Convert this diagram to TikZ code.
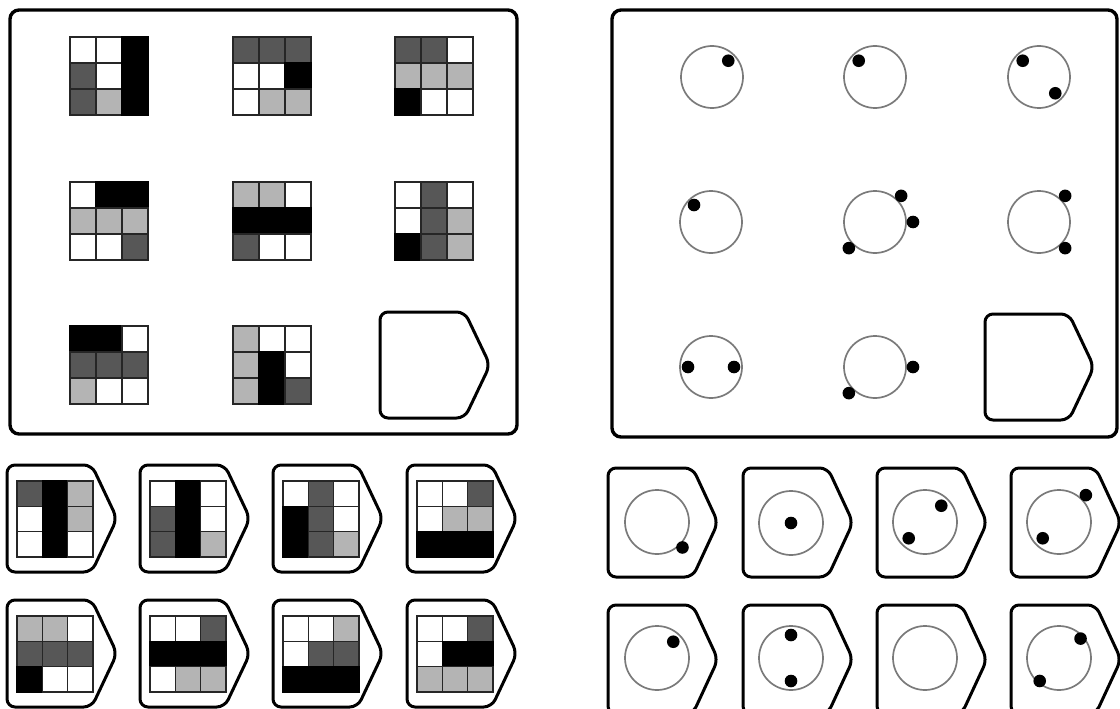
\documentclass[tikz,border=0pt]{standalone}
\usepackage{tikz}
\usetikzlibrary{calc}
\definecolor{gW}{HTML}{FFFFFF}
\definecolor{gL}{HTML}{B4B4B4}
\definecolor{gD}{HTML}{575757}
\definecolor{gB}{HTML}{000000}
\colorlet{eW}{black!85}
\colorlet{eL}{black!85}
\colorlet{eD}{black!85}
\colorlet{eB}{black}
\definecolor{ringgray}{HTML}{7A7A7A}
\tikzset{
  % --- frames
  panel/.style   = {draw=black, line width=3.4pt, rounded corners=9pt},
  tagline/.style = {draw=black, line width=3pt, rounded corners=8pt, line join=round},
  % --- tiles
  cell/.style    = {line width=1.3pt},
  ring/.style    = {draw=ringgray, line width=1.7pt},
  dot/.style     = {fill=black},
}
% 3x3 tile: left, top, cell size, nine colour codes
\newcommand\grid[4]{%
  \edef\gridlist{#4}%
  \foreach \c [count=\i from 0] in \gridlist{%
    \pgfmathtruncatemacro\col{mod(\i,3)}%
    \pgfmathtruncatemacro\row{\i/3}%
    \draw[cell, fill=g\c, draw=e\c] ({#1+\col*#3},{#2+\row*#3}) rectangle ++(#3,#3);
  }}
% answer frame: left, top, width, height
\newcommand\tagbox[4]{%
  \draw[tagline] (#1,#2) -- ({#1+0.77*#3},#2) -- ({#1+#3},{#2+#4/2})
    -- ({#1+0.77*#3},{#2+#4}) -- (#1,{#2+#4}) -- cycle;}
% circle: centre, radius, dots as angle/distance
\newcommand\ring[4]{%
  \draw[ring] (#1,#2) circle[radius=#3];
  \foreach \a/\d in {#4}{%
    \fill[dot] ({#1+\d*cos(\a)},{#2-\d*sin(\a)}) circle[radius=6.3];
  }}
\begin{document}
\begin{tikzpicture}[x=1pt,y=-1pt]
  \useasboundingbox (0,0) rectangle (1120,709);
  \clip (0,0) rectangle (1120,709);

  % --- left matrix
  \draw[panel] (10,10) rectangle (517,434);
  \grid{70}{37}{26}{W,W,B,D,W,B,D,L,B}
  \grid{233}{37}{26}{D,D,D,W,W,B,W,L,L}
  \grid{395}{37}{26}{D,D,W,L,L,L,B,W,W}
  \grid{70}{182}{26}{W,B,B,L,L,L,W,W,D}
  \grid{233}{182}{26}{L,L,W,B,B,B,D,W,W}
  \grid{395}{182}{26}{W,D,W,W,D,L,B,D,L}
  \grid{70}{326}{26}{B,B,W,D,D,D,L,W,W}
  \grid{233}{326}{26}{L,W,W,L,B,W,L,B,D}
  \tagbox{380}{312}{110}{106}

  % --- left answers
  \foreach \x/\ca/\cb in {7/{D,B,L,W,B,L,W,B,W}/{L,L,W,D,D,D,B,W,W},
                          140/{W,B,W,D,B,W,D,B,L}/{W,W,D,B,B,B,W,L,L},
                          273/{W,D,W,B,D,W,B,D,L}/{W,W,L,W,D,D,B,B,B},
                          407/{W,W,D,W,L,L,B,B,B}/{W,W,D,W,B,B,L,L,L}}{
    \tagbox{\x}{465}{110}{107}
    \grid{\x+10}{481}{25.3}{\ca}
    \tagbox{\x}{600}{110}{107}
    \grid{\x+10}{616}{25.3}{\cb}
  }

  % --- right matrix
  \draw[panel] (612,10) rectangle (1117,437);
  \ring{712}{77}{31}{45/23}
  \ring{875}{77}{31}{135/23}
  \ring{1039}{77}{31}{135/23,-45/23}
  \ring{711}{222}{31}{135/24}
  \ring{875}{222}{31}{45/37,0/38,225/37}
  \ring{1039}{222}{31}{45/37,-45/37}
  \ring{711}{367}{31}{180/23,0/23}
  \ring{875}{367}{31}{0/38,225/37}
  \tagbox{985}{314}{109}{106}

  % --- right answers
  \foreach \x in {608,743,877,1011}{
    \tagbox{\x}{468}{110}{109}
    \tagbox{\x}{605}{110}{109}
  }
  \ring{657}{522}{32}{-45/36}
  \ring{791}{523}{32}{0/0}
  \ring{925}{522}{32}{45/23,225/23}
  \ring{1059}{522}{32}{45/38,225/23}
  \ring{657}{658}{32}{45/23}
  \ring{791}{658}{32}{90/23,270/23}
  \draw[ring] (925,658) circle[radius=32];
  \ring{1059}{658}{32}{42/29,230/30}
\end{tikzpicture}
\end{document}
